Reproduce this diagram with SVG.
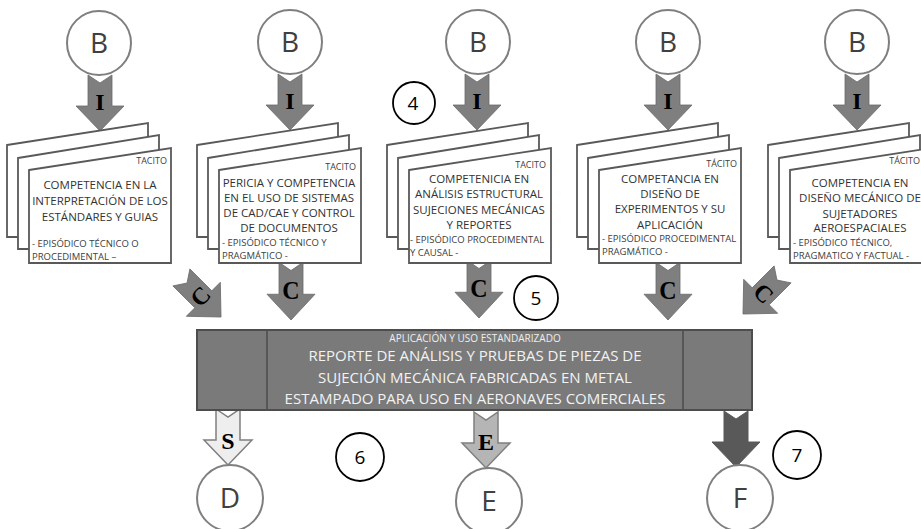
<svg xmlns="http://www.w3.org/2000/svg" xmlns:xlink="http://www.w3.org/1999/xlink" width="921" height="529" viewBox="0 0 921 529">
  <style>
    .circ { fill: #ffffff; stroke: #7f7f7f; stroke-width: 2; }
    .num { fill: #ffffff; stroke: #000000; stroke-width: 1.8; }
    .big { font-family: "Open Sans", "Liberation Sans", sans-serif; font-size: 28px; fill: #404040; text-anchor: middle; }
    .ntxt { font-family: "Open Sans", "Liberation Sans", sans-serif; font-size: 19px; fill: #000000; text-anchor: middle; }
    .page { fill: #ffffff; stroke: #595959; stroke-width: 1.8; stroke-linejoin: miter; }
    .tac { font-family: "Open Sans", "Liberation Sans", sans-serif; font-size: 9px; fill: #404040; text-anchor: end; }
    .ttl { font-family: "Open Sans", "Liberation Sans", sans-serif; font-size: 11.5px; fill: #333333; text-anchor: middle; }
    .epi { font-family: "Open Sans", "Liberation Sans", sans-serif; font-size: 9.5px; fill: #404040; }
    .arr { fill: #7f7f7f; stroke: #6a6a6a; stroke-width: 0.8; }
    .lt { font-family: "Liberation Serif", "Times New Roman", serif; font-weight: bold; font-size: 24px; fill: #000000; text-anchor: middle; }
    .box { fill: #7a7a7a; stroke: #4d4d4d; stroke-width: 2; }
    .btop { font-family: "Open Sans", "Liberation Sans", sans-serif; font-size: 10px; fill: #eeeeee; text-anchor: middle; }
    .bmain { font-family: "Open Sans", "Liberation Sans", sans-serif; font-size: 15px; fill: #f2f2f2; text-anchor: middle; }
  </style>
  <defs>
    <!-- notched block arrow, tip at origin, pointing down -->
    <path id="arrow" d="M-12,-56 L0,-48 L12,-56 L12,-25 L24,-25 L0,0 L-24,-25 L-12,-25 Z"/>
    <!-- three stacked sheets with slanted tops -->
    <g id="stack">
      <polygon class="page" points="0,145 141,123 141,237 0,237"/>
      <polygon class="page" points="11,158 152,135 152,249 11,249"/>
      <polygon class="page" points="22,170 164,148 164,263 22,263"/>
    </g>
  </defs>

  <!-- source circles -->
  <g id="b1"><circle class="circ" cx="99" cy="43" r="32"/><text class="big" x="99" y="53">B</text></g>
  <g id="b2"><circle class="circ" cx="290" cy="42" r="32"/><text class="big" x="290" y="52">B</text></g>
  <g id="b3"><circle class="circ" cx="478" cy="42" r="32"/><text class="big" x="478" y="52">B</text></g>
  <g id="b4"><circle class="circ" cx="668" cy="42" r="32"/><text class="big" x="668" y="52">B</text></g>
  <g id="b5"><circle class="circ" cx="857" cy="42" r="32"/><text class="big" x="857" y="52">B</text></g>

  <!-- connectors -->
  <g id="connectors">
    <g transform="translate(100,131)"><use href="#arrow" class="arr"/><text class="lt" x="0" y="-21">I</text></g>
    <g transform="translate(290,130)"><use href="#arrow" class="arr"/><text class="lt" x="0" y="-21">I</text></g>
    <g transform="translate(477,130)"><use href="#arrow" class="arr"/><text class="lt" x="0" y="-21">I</text></g>
    <g transform="translate(668,130)"><use href="#arrow" class="arr"/><text class="lt" x="0" y="-21">I</text></g>
    <g transform="translate(857,130)"><use href="#arrow" class="arr"/><text class="lt" x="0" y="-21">I</text></g>

    <g transform="translate(221,317) rotate(-45)"><use href="#arrow" class="arr"/><text class="lt" x="0" y="-21">C</text></g>
    <g transform="translate(291,320) scale(1,1.03)"><use href="#arrow" class="arr"/><text class="lt" x="0" y="-20">C</text></g>
    <g transform="translate(479,318) scale(1,1.03)"><use href="#arrow" class="arr"/><text class="lt" x="0" y="-20">C</text></g>
    <g transform="translate(668,320) scale(1,1.03)"><use href="#arrow" class="arr"/><text class="lt" x="0" y="-20">C</text></g>
    <g transform="translate(743,314) rotate(45)"><use href="#arrow" class="arr"/><text class="lt" x="0" y="-21">C</text></g>

    <g transform="translate(228,465)"><use href="#arrow" fill="#eeeeee" stroke="#7f7f7f" stroke-width="1.5"/><text class="lt" x="0" y="-16">S</text></g>
    <g transform="translate(486,468)"><use href="#arrow" fill="#b5b5b5" stroke="#7f7f7f" stroke-width="1.5"/><text class="lt" x="0" y="-18">E</text></g>
    <g transform="translate(736,467)"><use href="#arrow" fill="#595959" stroke="#595959" stroke-width="1"/></g>
  </g>

  <!-- knowledge sheets -->
  <g id="k1">
    <use href="#stack" x="7"/>
    <text class="tac" x="167" y="164">TACITO</text>
    <text class="ttl" x="100" y="189">COMPETENCIA EN LA</text>
    <text class="ttl" x="100" y="205">INTERPRETACIÓN DE LOS</text>
    <text class="ttl" x="100" y="221">ESTÁNDARES Y GUIAS</text>
    <text class="epi" x="32" y="247">- EPISÓDICO TÉCNICO O</text>
    <text class="epi" x="32" y="260">PROCEDIMENTAL –</text>
  </g>
  <g id="k2">
    <use href="#stack" x="197"/>
    <text class="tac" x="356" y="170">TACITO</text>
    <text class="ttl" x="289" y="187">PERICIA Y COMPETENCIA</text>
    <text class="ttl" x="289" y="202">EN EL USO DE SISTEMAS</text>
    <text class="ttl" x="289" y="217">DE CAD/CAE Y CONTROL</text>
    <text class="ttl" x="289" y="232">DE DOCUMENTOS</text>
    <text class="epi" x="222" y="246">- EPISÓDICO TÉCNICO Y</text>
    <text class="epi" x="222" y="259">PRAGMÁTICO -</text>
  </g>
  <g id="k3">
    <use href="#stack" x="387"/>
    <text class="tac" x="546" y="168">TACITO</text>
    <text class="ttl" x="479" y="183">COMPETENICIA EN</text>
    <text class="ttl" x="479" y="198">ANÁLISIS ESTRUCTURAL</text>
    <text class="ttl" x="479" y="214">SUJECIONES MECÁNICAS</text>
    <text class="ttl" x="479" y="229">Y REPORTES</text>
    <text class="epi" x="410" y="243">- EPISÓDICO PROCEDIMENTAL</text>
    <text class="epi" x="410" y="256">Y CAUSAL -</text>
  </g>
  <g id="k4">
    <use href="#stack" x="577"/>
    <text class="tac" x="737" y="167">TÁCITO</text>
    <text class="ttl" x="670" y="183">COMPETANCIA EN</text>
    <text class="ttl" x="670" y="198">DISEÑO DE</text>
    <text class="ttl" x="670" y="213">EXPERIMENTOS Y SU</text>
    <text class="ttl" x="670" y="229">APLICACIÓN</text>
    <text class="epi" x="602" y="242">- EPISÓDICO PROCEDIMENTAL</text>
    <text class="epi" x="602" y="255">PRAGMÁTICO -</text>
  </g>
  <g id="k5">
    <use href="#stack" x="768"/>
    <text class="tac" x="920" y="164">TÁCITO</text>
    <text class="ttl" x="860" y="187">COMPETENCIA EN</text>
    <text class="ttl" x="860" y="202">DISEÑO MECÁNICO DE</text>
    <text class="ttl" x="860" y="218">SUJETADORES</text>
    <text class="ttl" x="860" y="232">AEROESPACIALES</text>
    <text class="epi" x="793" y="246">- EPISÓDICO TÉCNICO,</text>
    <text class="epi" x="793" y="259">PRAGMATICO Y FACTUAL -</text>
  </g>

  <!-- central report block -->
  <g id="report">
    <rect class="box" x="197" y="330" width="555" height="80"/>
    <line x1="267" y1="330" x2="267" y2="410" stroke="#4d4d4d" stroke-width="1.5"/>
    <line x1="683" y1="330" x2="683" y2="410" stroke="#4d4d4d" stroke-width="1.5"/>
    <text class="btop" x="475" y="342">APLICACIÓN Y USO ESTANDARIZADO</text>
    <text class="bmain" x="475" y="361">REPORTE DE ANÁLISIS Y PRUEBAS DE PIEZAS DE</text>
    <text class="bmain" x="475" y="383">SUJECIÓN MECÁNICA FABRICADAS EN METAL</text>
    <text class="bmain" x="475" y="404">ESTAMPADO PARA USO EN AERONAVES COMERCIALES</text>
  </g>

  <!-- output circles -->
  <g id="d"><circle class="circ" cx="230" cy="498" r="33"/><text class="big" x="230" y="508">D</text></g>
  <g id="e"><circle class="circ" cx="489" cy="501" r="33"/><text class="big" x="489" y="511">E</text></g>
  <g id="f"><circle class="circ" cx="740" cy="498" r="33"/><text class="big" x="740" y="508">F</text></g>

  <!-- numbered markers -->
  <g id="n4"><circle class="num" cx="414" cy="103" r="21"/><text class="ntxt" x="413" y="110">4</text></g>
  <g id="n5"><circle class="num" cx="536" cy="298" r="22"/><text class="ntxt" x="536" y="305">5</text></g>
  <g id="n6"><circle class="num" cx="360" cy="457" r="24"/><text class="ntxt" x="360" y="464">6</text></g>
  <g id="n7"><circle class="num" cx="797" cy="455" r="24"/><text class="ntxt" x="797" y="462">7</text></g>
</svg>
